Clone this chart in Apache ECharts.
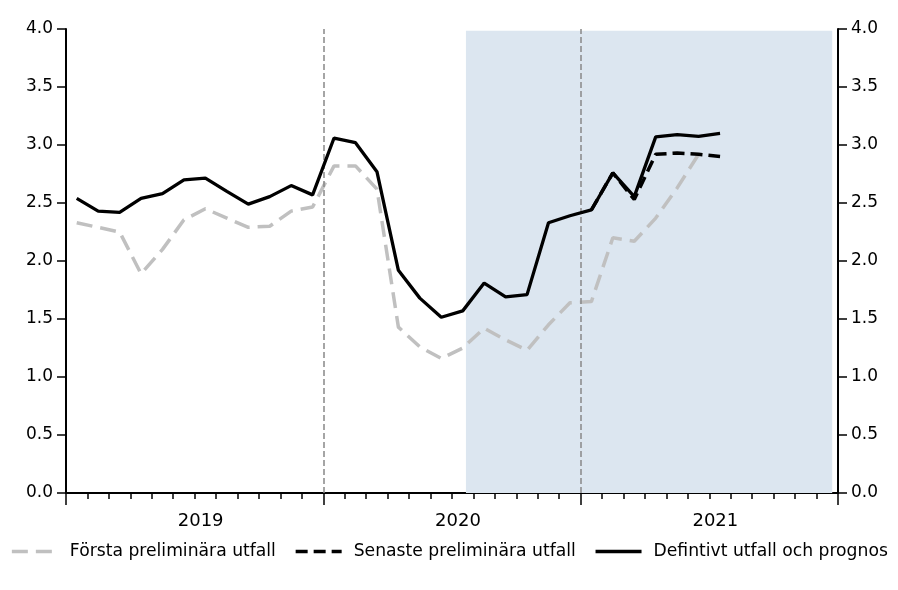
<!DOCTYPE html>
<html>
<head>
<meta charset="utf-8">
<script src="https://cdn.jsdelivr.net/npm/echarts@6/dist/echarts.min.js"></script>
<style>
html,body{margin:0;padding:0;background:#fff;}
#chart{width:898px;height:590px;}
</style>
</head>
<body>
<div id="chart"></div>
<script>
// Months Jan 2019 .. Jul 2021
var months = ["2019-01","2019-02","2019-03","2019-04","2019-05","2019-06","2019-07","2019-08","2019-09","2019-10","2019-11","2019-12",
              "2020-01","2020-02","2020-03","2020-04","2020-05","2020-06","2020-07","2020-08","2020-09","2020-10","2020-11","2020-12",
              "2021-01","2021-02","2021-03","2021-04","2021-05","2021-06","2021-07"];
var yearLabels = ["2019","2020","2021"];
var yTicks = [0,0.5,1,1.5,2,2.5,3,3.5,4];

var forsta = [2.33,2.29,2.25,1.89,2.10,2.355,2.45,2.37,2.29,2.30,2.43,2.465,
              2.82,2.82,2.62,1.43,1.26,1.16,1.25,1.42,1.32,1.23,1.45,1.64,
              1.65,2.20,2.17,2.37,2.63,2.92,null];
var senaste = [null,null,null,null,null,null,null,null,null,null,null,null,
               null,null,null,null,null,null,null,null,null,null,null,null,
               2.44,2.76,2.53,2.92,2.93,2.92,2.90];
var definitivt = [2.54,2.43,2.42,2.54,2.58,2.70,2.715,2.60,2.49,2.555,2.65,2.57,
                  3.06,3.02,2.77,1.92,1.68,1.515,1.57,1.81,1.69,1.71,2.33,2.39,
                  2.44,2.76,2.555,3.07,3.09,3.075,3.10];

var names = ["Första preliminära utfall","Senaste preliminära utfall","Defintivt utfall och prognos"];

function toPairs(arr){
  return arr.map(function(v,i){ return [i+0.5, v]; });
}

var FONT = "DejaVu Sans";
var chart = echarts.init(document.getElementById('chart'), null, {renderer:'canvas'});

function yAxisDef(pos){
  return {
    type:'value', position:pos, min:0, max:4, interval:0.5,
    axisLine:{show:true, lineStyle:{color:'#000', width:2}},
    axisTick:{show:true, length:9, lineStyle:{color:'#000', width:1.5}},
    axisLabel:{show:true, color:'#000', fontSize:17, fontFamily:FONT, margin:13,
      formatter:function(v){ return v.toFixed(1); }},
    splitLine:{show:false}
  };
}

var option = {
  animation:false,
  backgroundColor:'#fff',
  grid:{left:66, right:60, top:29, bottom:97, containLabel:false},
  xAxis:{
    type:'value', min:0, max:36, interval:12,
    axisLine:{show:true, onZero:false, lineStyle:{color:'#000', width:2}},
    axisTick:{show:true, length:12, lineStyle:{color:'#000', width:1.5}},
    minorTick:{show:true, splitNumber:12, length:6, lineStyle:{color:'#000', width:1.5}},
    splitLine:{show:false}, minorSplitLine:{show:false},
    axisLabel:{show:true, customValues:[6,18,30], color:'#000', fontSize:18, fontFamily:FONT, margin:19,
      padding:[0,0,0,12],
      formatter:function(v){ return yearLabels[Math.round((v-6)/12)] || ''; }}
  },
  yAxis:[yAxisDef('left'), yAxisDef('right')],
  legend:{
    left:'center', top:543, width:898, padding:0, orient:'horizontal',
    itemWidth:46, itemHeight:14, itemGap:18,
    itemStyle:{opacity:0},
    lineStyle:{width:3.5},
    textStyle:{color:'#000', fontSize:17.2, fontFamily:FONT, padding:[0,0,0,7]},
    data:names
  },
  series:[
    {
      name:'bg', type:'line', data:[], z:1, silent:true,
      markArea:{silent:true, itemStyle:{color:'#dce6f0'},
        data:[[{xAxis:18.65, yAxis:0},{xAxis:35.73, yAxis:3.985}]]},
      markLine:{silent:true, symbol:['none','none'], label:{show:false},
        lineStyle:{color:'#888', type:[6,3], width:1.5},
        data:[{xAxis:12},{xAxis:24}]}
    },
    {
      name:names[0], type:'line', data:toPairs(forsta), z:3, symbol:'none', showSymbol:false,
      lineStyle:{color:'#c0c0c0', width:3.5, type:[16,8]}, itemStyle:{color:'#c0c0c0'}
    },
    {
      name:names[1], type:'line', data:toPairs(senaste), z:4, symbol:'none', showSymbol:false,
      lineStyle:{color:'#000', width:3.5, type:[12,6]}, itemStyle:{color:'#000'}
    },
    {
      name:names[2], type:'line', data:toPairs(definitivt), z:5, symbol:'none', showSymbol:false,
      lineStyle:{color:'#000', width:3.3, type:'solid'}, itemStyle:{color:'#000'}
    }
  ]
};
chart.setOption(option);
</script>
</body>
</html>
